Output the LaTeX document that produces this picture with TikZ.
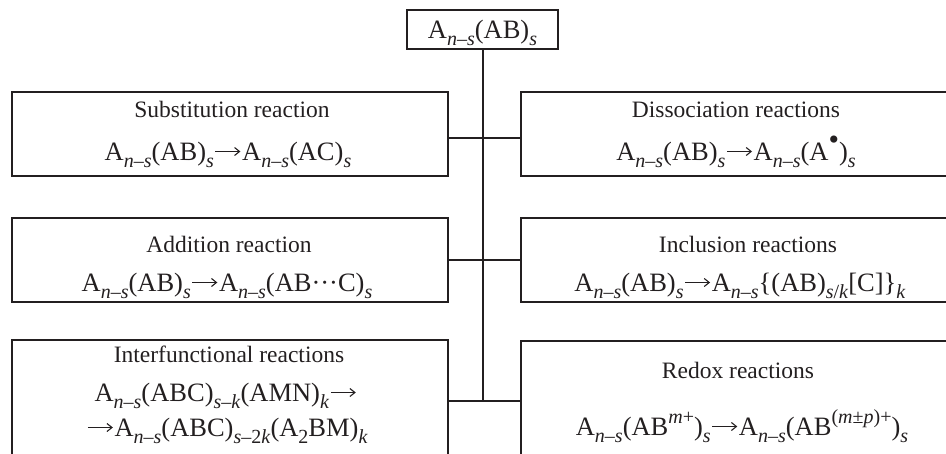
\documentclass[tikz,border=0pt]{standalone}
\usepackage{fontspec}
\setmainfont{Liberation Serif}
\usetikzlibrary{arrows.meta}
\definecolor{ink}{HTML}{231F20}
\newcommand\lo[1]{\raisebox{-0.3em}{\fontsize{20}{20}\selectfont #1}}
\newcommand\hi[1]{\raisebox{0.45em}{\fontsize{20}{20}\selectfont #1}}
\newcommand\nms{\textit{n}–\textit{s}}
\newcommand\sv{\textit{s}}
\newcommand\dotrad{\raisebox{0.38em}{\fontsize{30}{30}\selectfont •}}
\newcommand\ra{\kern1pt\tikz[baseline=0pt,x=1pt,y=1pt]\draw[ink,line width=1.1pt,-{Straight Barb[length=5pt,width=8pt,line width=1.1pt]}] (0,8.5) -- (25,8.5);\kern1pt}
\tikzset{
  box/.style={draw=ink, line width=2.3pt, rectangle, inner sep=0pt, outer sep=0pt},
  link/.style={draw=ink, line width=2pt},
  ttl/.style={anchor=base, inner sep=0pt, font=\fontsize{23.5}{23.5}\selectfont, text=ink},
  frm/.style={anchor=base, inner sep=0pt, font=\fontsize{26.5}{26.5}\selectfont, text=ink},
}
\begin{document}
\begin{tikzpicture}[x=1pt,y=-1pt]
\useasboundingbox (0,0) rectangle (946,453);
\clip (0,0) rectangle (946,453);
% boxes
\node[box, minimum width=151pt, minimum height=39pt] (top) at (482.5,29.5) {};
\node[box, minimum width=436pt, minimum height=84pt] (sub) at (230,134) {};
\node[box, minimum width=436pt, minimum height=84pt] (dis) at (739,134) {};
\node[box, minimum width=436pt, minimum height=84pt] (add) at (230,260) {};
\node[box, minimum width=436pt, minimum height=84pt] (inc) at (739,260) {};
\node[box, minimum width=436pt, minimum height=140pt] (inf) at (230,410) {};
\node[box, minimum width=436pt, minimum height=140pt] (red) at (739,411) {};
% texts
\node[frm] (ttop) at (482.5,38) {A\lo{\nms}(AB)\lo{\sv}};
\node[ttl] (tsub) at (232,117) {Substitution reaction};
\node[frm] (fsub) at (228,160) {A\lo{\nms}(AB)\lo{\sv}\ra A\lo{\nms}(AC)\lo{\sv}};
\node[ttl] (tdis) at (736,117) {Dissociation reactions};
\node[frm] (fdis) at (736,160) {A\lo{\nms}(AB)\lo{\sv}\ra A\lo{\nms}(A\dotrad)\lo{\sv}};
\node[ttl] (tadd) at (229,252) {Addition reaction};
\node[frm] (fadd) at (227,291) {A\lo{\nms}(AB)\lo{\sv}\ra A\lo{\nms}(AB···C)\lo{\sv}};
\node[ttl] (tinc) at (748,252) {Inclusion reactions};
\node[frm] (finc) at (740,291) {A\lo{\nms}(AB)\lo{\sv}\ra A\lo{\nms}\{(AB)\lo{\sv/\textit{k}}[C]\}\lo{\textit{k}}};
\node[ttl] (tinf) at (229,362) {Interfunctional reactions};
\node[frm] (finf1) at (226,401) {A\lo{\nms}(ABC)\lo{\sv–\textit{k}}(AMN)\lo{\textit{k}}\ra};
\node[frm] (finf2) at (227,436) {\ra A\lo{\nms}(ABC)\lo{\sv–2\textit{k}}(A\lo{2}BM)\lo{\textit{k}}};
\node[ttl] (tred) at (738,378) {Redox reactions};
\node[frm] (fred) at (742,435) {A\lo{\nms}(AB\hi{\textit{m}+})\lo{\sv}\ra A\lo{\nms}(AB\hi{(\textit{m}±\textit{p})+})\lo{\sv}};
% connectors
\coordinate (j1) at (482.5,138);
\coordinate (j2) at (482.5,260);
\coordinate (j3) at (482.5,401);
\draw[link] (top.south) -- (j3);
\draw[link] (sub.east |- j1) -- (dis.west |- j1);
\draw[link] (add.east |- j2) -- (inc.west |- j2);
\draw[link] (inf.east |- j3) -- (red.west |- j3);
\end{tikzpicture}
\end{document}
